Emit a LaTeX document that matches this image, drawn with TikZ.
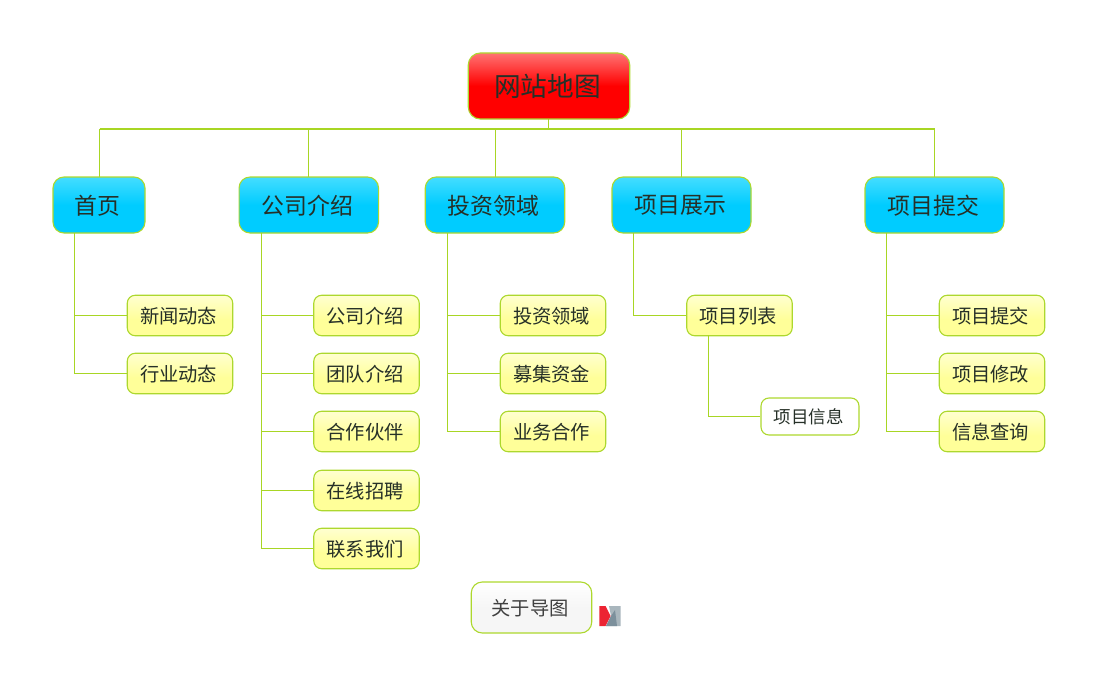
\documentclass[tikz,border=0pt]{standalone}
\usepackage{fontspec}
\setmainfont{Noto Sans CJK SC}
\newcommand{\tx}[1]{\raisebox{-0.7pt}[\height][\depth]{\kern-1.4pt #1\kern1.4pt}}
\definecolor{edgeC}{HTML}{ADD82E}
\definecolor{lineC}{HTML}{A8D624}
\definecolor{inkC}{HTML}{263028}
\definecolor{logoR}{HTML}{EC2433}
\definecolor{logoG}{HTML}{A9B6BD}
\definecolor{logoD}{HTML}{7C909C}
\pgfdeclareverticalshading{redgrad}{100bp}{color(0bp)=(red);color(50bp)=(red);color(75bp)=(red!55!white);color(100bp)=(red!55!white)}
\definecolor{blueA}{HTML}{00CCFF}
\definecolor{blueB}{HTML}{44DDFF}
\pgfdeclareverticalshading{bluegrad}{100bp}{color(0bp)=(blueA);color(50bp)=(blueA);color(75bp)=(blueB);color(100bp)=(blueB)}
\definecolor{yelA}{HTML}{FFFF99}
\definecolor{yelB}{HTML}{FFFFD0}
\pgfdeclareverticalshading{yelgrad}{100bp}{color(0bp)=(yelA);color(45bp)=(yelA);color(75bp)=(yelB);color(100bp)=(yelB)}
\definecolor{greyA}{HTML}{F6F6F6}
\pgfdeclareverticalshading{greygrad}{100bp}{color(0bp)=(greyA);color(50bp)=(greyA);color(75bp)=(white);color(100bp)=(white)}
\tikzset{
  box/.style={draw=edgeC,line width=1.1pt,inner sep=0pt,text=inkC,anchor=center},
  rootbox/.style={box,rounded corners=12pt,shading=redgrad,minimum width=161.5pt,minimum height=66pt,font=\fontsize{26.7}{30}\selectfont},
  topicbox/.style={box,rounded corners=11pt,shading=bluegrad,minimum height=56pt,font=\fontsize{22.9}{26}\selectfont},
  subbox/.style={box,rounded corners=8pt,shading=yelgrad,minimum width=105.5pt,minimum height=40.5pt,font=\fontsize{19.3}{22}\selectfont},
  leafbox/.style={box,rounded corners=8pt,fill=white,minimum width=98pt,minimum height=37pt,font=\fontsize{17.5}{20}\selectfont},
  aboutbox/.style={box,rounded corners=11pt,shading=greygrad,minimum width=120.5pt,minimum height=51pt,text=black!75,font=\fontsize{19.3}{22}\selectfont},
  link/.style={draw=lineC,line width=1pt},
  buslink/.style={draw=lineC,line width=1.4pt}
}
\begin{document}
\begin{tikzpicture}[x=1pt,y=-1pt]
\useasboundingbox (0,0) rectangle (1098,685);
\coordinate (bus) at (548.5,129);
\coordinate (rootfoot) at (548.5,119);
\coordinate (t1top) at (99.5,177);
\coordinate (t2top) at (308.5,177);
\coordinate (t3top) at (495.5,177);
\coordinate (t4top) at (681.5,177);
\coordinate (t5top) at (934.5,177);
\foreach \t in {t1top,t2top,t3top,t4top,t5top} \draw[link] (\t) -- (\t |- bus);
\draw[buslink] (t1top |- bus) -- (t5top |- bus);
\draw[link] (rootfoot) -- (bus);
\coordinate (s1) at (74.5,233);
\coordinate (s2) at (261.5,233);
\coordinate (s3) at (447.5,233);
\coordinate (s4) at (633.5,233);
\coordinate (s5) at (886.5,233);
\coordinate (s6) at (708.5,335);
\node[rootbox] (root) at (549,86) {\tx{网站地图}};
\node[topicbox,minimum width=92pt] (t1) at (99,205) {\tx{首页}};
\node[topicbox,minimum width=139.5pt] (t2) at (308.8,205) {\tx{公司介绍}};
\node[topicbox,minimum width=139.5pt] (t3) at (495,205) {\tx{投资领域}};
\node[topicbox,minimum width=139pt] (t4) at (681.5,205) {\tx{项目展示}};
\node[topicbox,minimum width=139pt] (t5) at (934.5,205) {\tx{项目提交}};
\node[subbox] (a1) at (180,315.5) {\tx{新闻动态}};
\node[subbox] (a2) at (180,373.5) {\tx{行业动态}};
\node[subbox] (b1) at (366.5,315.5) {\tx{公司介绍}};
\node[subbox] (b2) at (366.5,373.5) {\tx{团队介绍}};
\node[subbox] (b3) at (366.5,431.5) {\tx{合作伙伴}};
\node[subbox] (b4) at (366.5,490.5) {\tx{在线招聘}};
\node[subbox] (b5) at (366.5,548.5) {\tx{联系我们}};
\node[subbox] (c1) at (553,315.5) {\tx{投资领域}};
\node[subbox] (c2) at (553,373.5) {\tx{募集资金}};
\node[subbox] (c3) at (553,431.5) {\tx{业务合作}};
\node[subbox] (d1) at (739.5,315.5) {\tx{项目列表}};
\node[leafbox] (d2) at (810,416.5) {\tx{项目信息}};
\node[subbox] (e1) at (992,315.5) {\tx{项目提交}};
\node[subbox] (e2) at (992,373.5) {\tx{项目修改}};
\node[subbox] (e3) at (992,431.5) {\tx{信息查询}};
\node[aboutbox] (about) at (531.5,607.5) {\tx{关于导图}};
\foreach \s/\k in {s1/a1,s1/a2,s2/b1,s2/b2,s2/b3,s2/b4,s2/b5,s3/c1,s3/c2,s3/c3,s4/d1,s5/e1,s5/e2,s5/e3,s6/d2}
  \draw[link] (\s) |- (\k.west);
% logo
\fill[logoG] (609,606) -- (620.5,606) -- (620.5,626) -- (606,626) -- (611,616) -- cycle;
\fill[logoD] (615,610) -- (617,626) -- (606,626) -- (611,616) -- cycle;
\fill[logoR] (599.3,606) -- (605.5,606) -- (610.5,616) -- (605.5,626) -- (599.3,626) -- cycle;
\end{tikzpicture}
\end{document}
